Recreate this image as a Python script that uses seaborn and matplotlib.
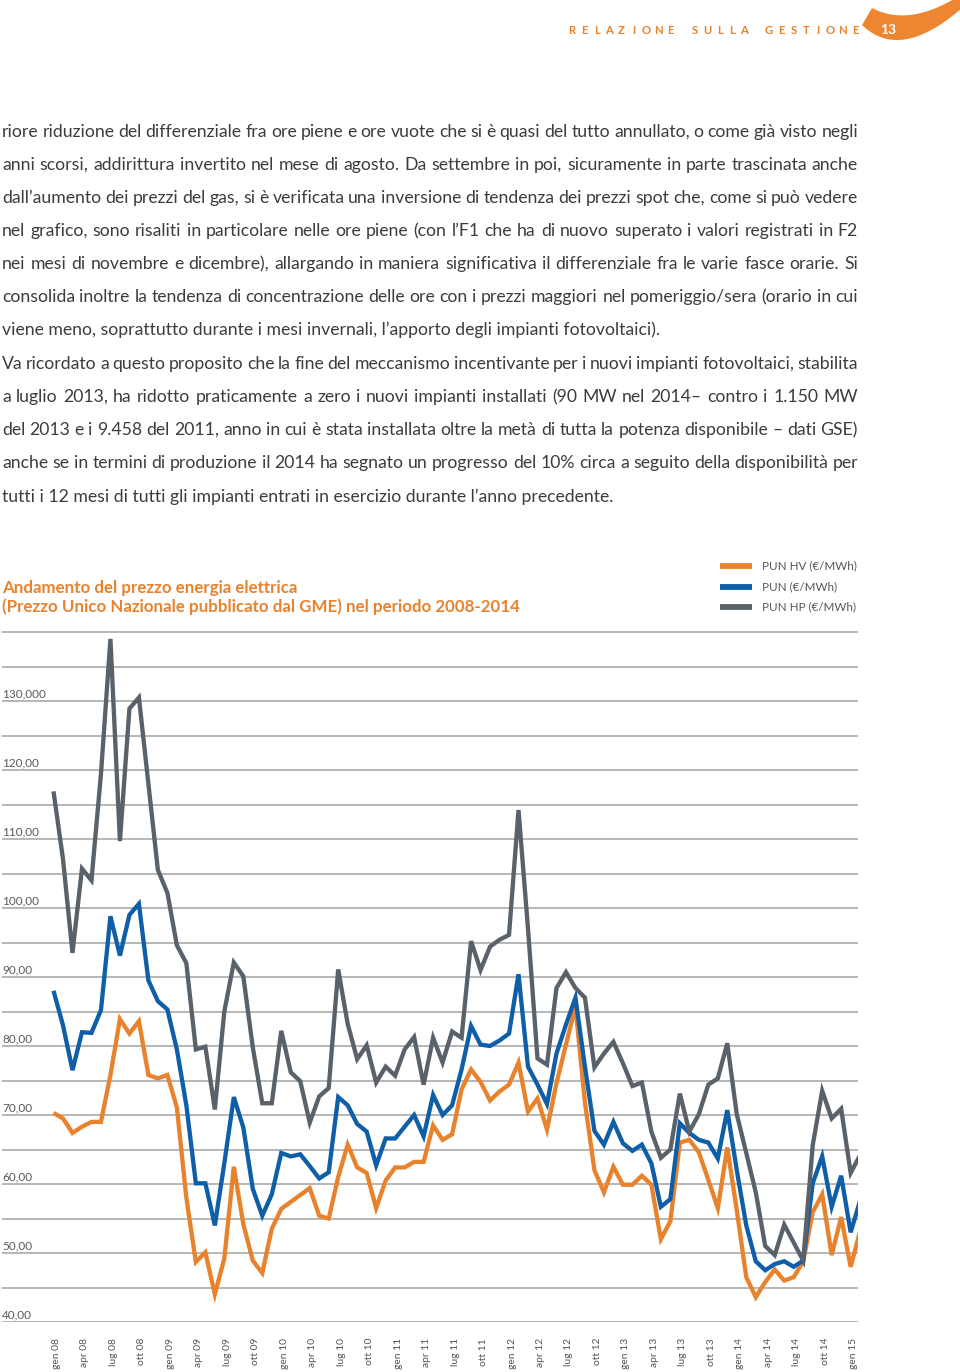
import numpy as np
import pandas as pd
import matplotlib
matplotlib.use("Agg")
import matplotlib.pyplot as plt
import matplotlib.transforms as mtransforms
from matplotlib.lines import Line2D
from matplotlib.patches import Polygon
import seaborn as sns

# ---------------- data (monthly, gen 08 ...) ----------------
hv = [70.3, 69.5, 67.4, 68.3, 69.0, 69.0, 75.8, 83.9, 81.8, 83.6,
      75.8, 75.3, 75.8, 71.1, 58.0, 48.7, 50.1, 44.0, 49.2, 62.5,
      54.2, 48.9, 47.1, 53.5, 56.4, 57.4, 58.4, 59.4, 55.4, 55.0,
      61.0, 65.7, 62.4, 61.6, 56.5, 60.5, 62.4, 62.4, 63.2, 63.2,
      68.5, 66.4, 67.2, 73.7, 76.6, 74.8, 72.1, 73.4, 74.4, 77.6,
      70.5, 72.4, 67.9, 74.6, 80.2, 85.7, 71.8, 62.0, 58.8, 62.5,
      59.9, 59.9, 61.2, 59.9, 52.0, 54.6, 66.0, 66.4, 64.6, 60.6,
      56.5, 65.3, 56.2, 46.5, 43.6, 45.8, 47.6, 46.0, 46.5, 48.8,
      55.9, 58.5, 49.7, 55.2, 48.0, 53.2]
pun = [88.0, 83.0, 76.5, 82.0, 81.9, 85.2, 98.8, 93.1, 99.0, 100.6,
       89.5, 86.5, 85.3, 79.5, 71.4, 60.1, 60.1, 54.0, 63.0, 72.6,
       68.2, 59.3, 55.4, 58.5, 64.5, 64.0, 64.3, 62.6, 60.8, 61.7,
       72.6, 71.4, 68.7, 67.6, 62.7, 66.6, 66.6, 68.3, 70.0, 66.9,
       72.9, 70.0, 71.4, 76.6, 82.9, 80.2, 80.0, 80.8, 81.8, 90.4,
       77.0, 74.4, 71.6, 78.9, 83.1, 87.0, 77.0, 67.7, 65.7, 69.0,
       65.9, 64.8, 65.7, 63.0, 56.7, 57.8, 68.8, 67.4, 66.4, 66.0,
       63.7, 70.7, 62.0, 54.0, 48.8, 47.5, 48.4, 48.8, 48.0, 48.9,
       60.1, 64.0, 56.7, 61.2, 53.0, 57.6]
hp = [116.9, 107.1, 93.5, 105.7, 104.0, 119.4, 139.0, 109.7, 128.9, 130.5,
      118.0, 105.5, 102.2, 94.6, 92.0, 79.5, 79.9, 70.8, 85.0, 92.1,
      90.1, 79.8, 71.7, 71.7, 82.2, 76.2, 74.9, 68.9, 72.7, 73.9,
      91.1, 83.2, 78.1, 80.1, 74.7, 77.0, 75.7, 79.5, 81.3, 74.4,
      81.2, 77.6, 82.1, 81.2, 95.2, 91.0, 94.4, 95.4, 96.1, 114.2,
      97.0, 78.2, 77.3, 88.4, 90.7, 88.4, 87.0, 76.9, 78.9, 80.6,
      77.5, 74.2, 74.7, 67.6, 63.8, 65.0, 73.1, 67.6, 70.1, 74.4,
      75.3, 80.4, 70.1, 64.5, 58.8, 51.0, 49.7, 54.1, 51.5, 48.9,
      65.6, 73.5, 69.5, 70.9, 61.6, 64.2]

series_names = ["PUN HV (€/MWh)", "PUN (€/MWh)", "PUN HP (€/MWh)"]
series_colors = ["#E8822D", "#0F5EA8", "#59626A"]

x_tick_labels = ["gen 08", "apr 08", "lug 08", "ott 08",
                 "gen 09", "apr 09", "lug 09", "ott 09",
                 "gen 10", "apr 10", "lug 10", "ott 10",
                 "gen 11", "apr 11", "lug 11", "ott 11",
                 "gen 12", "apr 12", "lug 12", "ott 12",
                 "gen 13", "apr 13", "lug 13", "ott 13",
                 "gen 14", "apr 14", "lug 14", "ott 14",
                 "gen 15"]
y_tick_values = [40, 50, 60, 70, 80, 90, 100, 110, 120, 130]
y_tick_labels = ["40,00", "50,00", "60,00", "70,00", "80,00", "90,00",
                 "100,00", "110,00", "120,00", "130,000"]

title_lines = ["Andamento del prezzo energia elettrica",
               "(Prezzo Unico Nazionale pubblicato dal GME) nel periodo 2008-2014"]
header_text = "RELAZIONE SULLA GESTIONE"
page_number = "13"

body_lines = [
    ("riore riduzione del differenziale fra ore piene e ore vuote che si è quasi del tutto annullato, o come già visto negli", True),
    ("anni scorsi, addirittura invertito nel mese di agosto. Da settembre in poi, sicuramente in parte trascinata anche", True),
    ("dall’aumento dei prezzi del gas, si è verificata una inversione di tendenza dei prezzi spot che, come si può vedere", True),
    ("nel grafico, sono risaliti in particolare nelle ore piene (con l’F1 che ha di nuovo superato i valori registrati in F2", True),
    ("nei mesi di novembre e dicembre), allargando in maniera significativa il differenziale fra le varie fasce orarie. Si", True),
    ("consolida inoltre la tendenza di concentrazione delle ore con i prezzi maggiori nel pomeriggio/sera (orario in cui", True),
    ("viene meno, soprattutto durante i mesi invernali, l’apporto degli impianti fotovoltaici).", False),
    ("Va ricordato a questo proposito che la fine del meccanismo incentivante per i nuovi impianti fotovoltaici, stabilita", True),
    ("a luglio 2013, ha ridotto praticamente a zero i nuovi impianti installati (90 MW nel 2014– contro i 1.150 MW", True),
    ("del 2013 e i 9.458 del 2011, anno in cui è stata installata oltre la metà di tutta la potenza disponibile – dati GSE)", True),
    ("anche se in termini di produzione il 2014 ha segnato un progresso del 10% circa a seguito della disponibilità per", True),
    ("tutti i 12 mesi di tutti gli impianti entrati in esercizio durante l’anno precedente.", False),
]

# ---------------- layout ----------------
W, H = 960, 1372
FONT = ["Lato", "DejaVu Sans"]
ORANGE = "#E8822D"
TEXT = "#3C3C3C"

sns.set_theme(style="white")
plt.rcParams["font.family"] = FONT

fig = plt.figure(figsize=(W / 100, H / 100), dpi=100)
fig.patch.set_facecolor("white")
renderer = fig.canvas.get_renderer()


def fx(px):
    return px / W


def fy(py):
    return 1 - py / H


def text_width(s, **kw):
    t = fig.text(0, 0, s, **kw)
    w = t.get_window_extent(renderer).width
    t.remove()
    return w


# ---------------- chart ----------------
px_per_unit = 6.9
y_lo, y_hi = 40, 142
ax_bottom_px = 1322
ax_top_px = ax_bottom_px - (y_hi - y_lo) * px_per_unit
ax_left_px, ax_right_px = 2, 858
ax = fig.add_axes([fx(ax_left_px), fy(ax_bottom_px),
                   (ax_right_px - ax_left_px) / W,
                   (ax_bottom_px - ax_top_px) / H])
ax.set_facecolor("white")

n = len(hp)
months = np.arange(n)
df = pd.DataFrame({
    "mese": np.concatenate([months, months, months]),
    "valore": np.concatenate([hv, pun, hp]),
    "serie": np.repeat(series_names, n),
})
sns.lineplot(data=df, x="mese", y="valore", hue="serie",
             hue_order=series_names, palette=series_colors,
             estimator=None, legend=False, linewidth=3.1, ax=ax)
for ln in ax.lines:
    ln.set_solid_joinstyle("miter")
    ln.set_solid_capstyle("butt")

unit_px = 9.49
first_px = 53.5
ax.set_xlim((ax_left_px - first_px) / unit_px, (ax_right_px - first_px) / unit_px)
ax.set_ylim(y_lo, y_hi)

ax.set_yticks(np.arange(40, 141, 5))
ax.set_yticklabels([])
ax.yaxis.grid(True, color="#A3A3A3", linewidth=1.1)
ax.xaxis.grid(False)
ax.set_axisbelow(True)
for sp in ax.spines.values():
    sp.set_visible(False)
ax.tick_params(axis="y", length=0, labelleft=False)

ax.set_xticks(np.arange(0, 3 * len(x_tick_labels), 3))
ax.set_xticklabels(x_tick_labels, rotation=90, fontsize=7.4, color="#555555",
                   va="top", ha="center")
ax.tick_params(axis="x", length=0, pad=11.5)
shift = mtransforms.ScaledTranslation(3 / 100, 0, fig.dpi_scale_trans)
for lab in ax.get_xticklabels():
    lab.set_transform(lab.get_transform() + shift)
ax.set_xlabel("")
ax.set_ylabel("")

ytrans = mtransforms.offset_copy(ax.get_yaxis_transform(), fig=fig, x=0, y=1.5, units="dots")
for v, lab in zip(y_tick_values, y_tick_labels):
    ax.text(0.0, v, lab, transform=ytrans, ha="left", va="bottom",
            fontsize=8.5, color="#5A5A5A")

# ---------------- legend (top right) ----------------
leg_y = [566, 587, 607]
for name, col, yy in zip(series_names, series_colors, leg_y):
    fig.add_artist(Line2D([fx(720), fx(752)], [fy(yy), fy(yy)],
                          transform=fig.transFigure, color=col,
                          linewidth=4.2, solid_capstyle="butt"))
    fig.text(fx(762), fy(yy), name, ha="left", va="center",
             fontsize=8.4, color="#555555")

# ---------------- chart title ----------------
fs_title = 10 * 518 / text_width(title_lines[1], fontsize=10, fontweight="bold")
for line, base in zip(title_lines, [593, 612]):
    fig.text(fx(2), fy(base), line, ha="left", va="baseline",
             fontsize=fs_title, fontweight="bold", color=ORANGE)

# ---------------- body text ----------------
fs_body = 10 * 660 / text_width(body_lines[6][0], fontsize=10)
body_y = [132, 165, 198, 231, 264, 297, 330, 364, 397, 430, 463, 497]
target = 856
for (line, justify), yc in zip(body_lines, body_y):
    base = yc + 5
    if not justify:
        fig.text(fx(2), fy(base), line, ha="left", va="baseline",
                 fontsize=fs_body, color=TEXT)
        continue
    words = line.split(" ")
    fs = fs_body
    while True:
        ws = [text_width(w, fontsize=fs) for w in words]
        sw = text_width("a a", fontsize=fs) - text_width("aa", fontsize=fs)
        gap = (target - sum(ws)) / (len(words) - 1)
        if gap >= 0.55 * sw:
            break
        fs *= 0.985
    x = 2
    for w, wd in zip(words, ws):
        fig.text(fx(x), fy(base), w, ha="left", va="baseline",
                 fontsize=fs, color=TEXT)
        x += wd + gap

# ---------------- header ----------------
n_ch = len(header_text)
for j, ch in enumerate(header_text):
    if ch == " ":
        continue
    cx = 572 + j * (855 - 572) / (n_ch - 1)
    fig.text(fx(cx), fy(31), ch, ha="center", va="center",
             fontsize=8.2, fontweight="bold", color=ORANGE)

t = np.linspace(0, 1, 40)


def bez(p0, p1, p2):
    xs = (1 - t) ** 2 * p0[0] + 2 * (1 - t) * t * p1[0] + t ** 2 * p2[0]
    ys = (1 - t) ** 2 * p0[1] + 2 * (1 - t) * t * p1[1] + t ** 2 * p2[1]
    return xs, ys


bx, by = bez((862, 25), (900, 62), (962, 8))
tx, tyy = bez((962, -6), (910, 28), (872, 8))
pts = [(fx(a), fy(b)) for a, b in zip(np.concatenate([bx, tx]), np.concatenate([by, tyy]))]
fig.add_artist(Polygon(pts, closed=True, transform=fig.transFigure,
                       facecolor="#EE8530", edgecolor="none"))
fig.text(fx(888), fy(30), page_number, ha="center", va="center",
         fontsize=10, fontweight="bold", color="white")

fig.savefig("out.png", dpi=100, facecolor="white")
